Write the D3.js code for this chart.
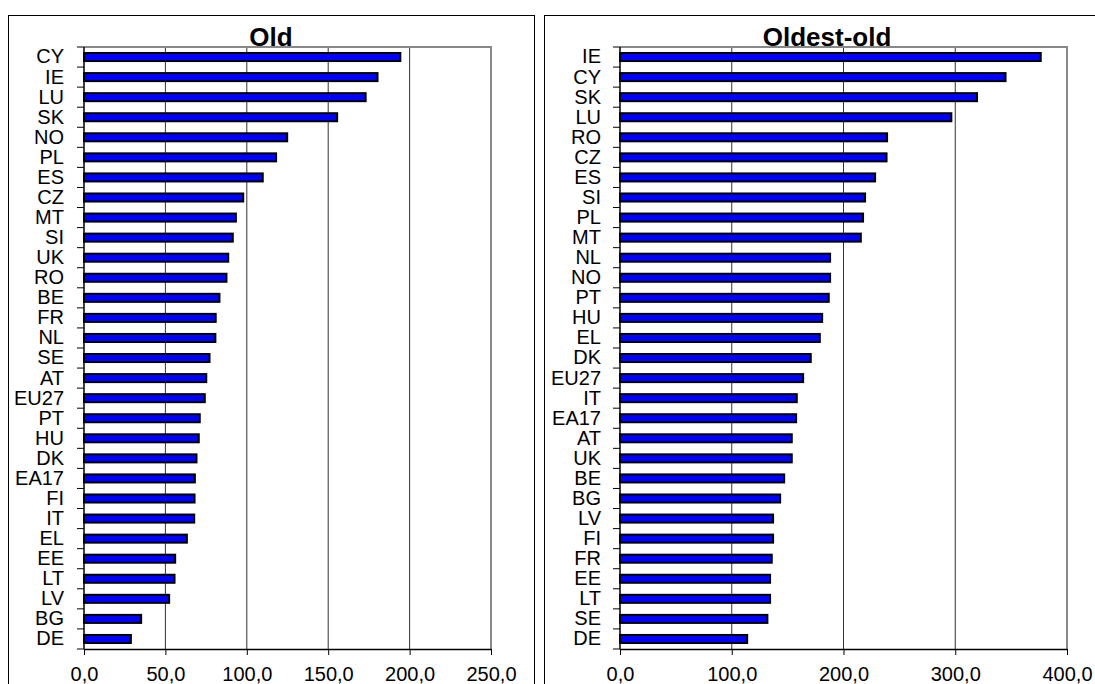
<!DOCTYPE html>
<html>
<head>
<meta charset="utf-8">
<script src="https://cdn.jsdelivr.net/npm/d3@7"></script>
<style>
  body { margin: 0; background: #fff; }
  svg { display: block; font-family: "Liberation Sans", Arial, sans-serif; }
</style>
</head>
<body>
<svg id="chart"></svg>
<script>
// Old (65+) panel
const oldCountries = ["CY","IE","LU","SK","NO","PL","ES","CZ","MT","SI","UK","RO","BE","FR","NL",
  "SE","AT","EU27","PT","HU","DK","EA17","FI","IT","EL","EE","LT","LV","BG","DE"];
const oldValues = [194.3,180.3,173.0,155.5,124.8,118.0,109.8,97.8,93.3,91.4,88.6,87.5,83.2,80.9,80.7,
  77.1,75.1,74.2,71.1,70.5,69.1,68.1,67.9,67.7,63.2,56.0,55.6,52.3,35.1,28.8];
const oldTicks = [0, 50, 100, 150, 200, 250];

// Oldest-old (80+) panel
const oldestCountries = ["IE","CY","SK","LU","RO","CZ","ES","SI","PL","MT","NL","NO","PT","HU","EL",
  "DK","EU27","IT","EA17","AT","UK","BE","BG","LV","FI","FR","EE","LT","SE","DE"];
const oldestValues = [376.5,345.0,319.5,296.5,239.0,238.5,228.3,219.3,217.5,215.5,188.0,188.0,186.8,180.9,178.8,
  170.7,163.9,158.2,157.6,153.7,153.7,146.9,143.3,137.0,137.0,135.8,134.3,134.3,131.9,113.8];
const oldestTicks = [0, 100, 200, 300, 400];

const width = 1095, height = 684;
const svg = d3.select("#chart").attr("width", width).attr("height", height);

const fmt = d => d3.format(".1f")(d).replace(".", ",");

function panel({frame, plot, title, cats, vals, ticks, labelPad}) {
  const g = svg.append("g");

  // outer chart frame (runs off the bottom / right of the picture)
  g.append("rect")
      .attr("x", frame[0] + 0.5).attr("y", frame[1] + 0.5)
      .attr("width", frame[2] - frame[0]).attr("height", frame[3] - frame[1])
      .attr("fill", "none").attr("stroke", "#000").attr("stroke-width", 1);

  const x = d3.scaleLinear([0, d3.max(ticks)], [plot.left, plot.right]);
  const y = d3.scaleBand(cats, [plot.top, plot.bottom]).paddingInner(0.6).paddingOuter(0.3);
  const step = y.step();

  // gridlines
  g.append("g")
    .selectAll("line")
    .data(ticks.slice(1, -1))
    .join("line")
      .attr("x1", d => x(d)).attr("x2", d => x(d))
      .attr("y1", plot.top).attr("y2", plot.bottom)
      .attr("stroke", "#333").attr("stroke-width", 1);

  // plot area border (top and right, grey)
  g.append("path")
      .attr("d", `M${plot.left},${plot.top}H${plot.right}V${plot.bottom}`)
      .attr("fill", "none").attr("stroke", "#888").attr("stroke-width", 2);

  // bars
  g.append("g")
    .selectAll("rect")
    .data(cats.map((c, i) => ({c, v: vals[i]})))
    .join("rect")
      .attr("x", x(0))
      .attr("y", d => y(d.c))
      .attr("width", d => x(d.v) - x(0))
      .attr("height", y.bandwidth())
      .attr("fill", "#0000ff")
      .attr("stroke", "#000")
      .attr("stroke-width", 2);

  // category axis
  g.append("g")
      .attr("transform", `translate(${plot.left},0)`)
      .call(d3.axisLeft(y).tickSize(0).tickPadding(labelPad))
      .call(a => a.select(".domain").remove())
      .call(a => a.selectAll("text").attr("font-size", 20).attr("fill", "#000")
          .attr("font-family", "'Liberation Sans', Arial, sans-serif"));

  // boundary ticks between categories
  const bounds = cats.map(c => y(c) - step * 0.3).concat([plot.bottom]);
  g.append("g")
    .selectAll("line")
    .data(bounds)
    .join("line")
      .attr("x1", plot.left - 7).attr("x2", plot.left)
      .attr("y1", d => d).attr("y2", d => d)
      .attr("stroke", "#000").attr("stroke-width", 1);

  g.append("line")
      .attr("x1", plot.left).attr("x2", plot.left)
      .attr("y1", plot.top).attr("y2", plot.bottom)
      .attr("stroke", "#000").attr("stroke-width", 1.5);

  // value axis
  g.append("g")
      .attr("transform", `translate(0,${plot.bottom})`)
      .call(d3.axisBottom(x).tickValues(ticks).tickFormat(fmt).tickSize(6).tickSizeOuter(0).tickPadding(12))
      .call(a => a.select(".domain").attr("stroke-width", 1.5))
      .call(a => a.selectAll("text").attr("font-size", 20).attr("fill", "#000")
          .attr("font-family", "'Liberation Sans', Arial, sans-serif"));

  // title
  g.append("text")
      .attr("x", (frame[0] + frame[2]) / 2)
      .attr("y", plot.top - 1)
      .attr("text-anchor", "middle")
      .attr("font-size", 26)
      .attr("font-weight", "bold")
      .text(title);
}

panel({
  frame: [8, 15, 534, 720],
  plot: {left: 84, right: 491, top: 47, bottom: 649},
  title: "Old",
  cats: oldCountries, vals: oldValues, ticks: oldTicks, labelPad: 20
});

panel({
  frame: [544, 15, 1110, 720],
  plot: {left: 620, right: 1067, top: 47, bottom: 649},
  title: "Oldest-old",
  cats: oldestCountries, vals: oldestValues, ticks: oldestTicks, labelPad: 19
});
</script>
</body>
</html>
